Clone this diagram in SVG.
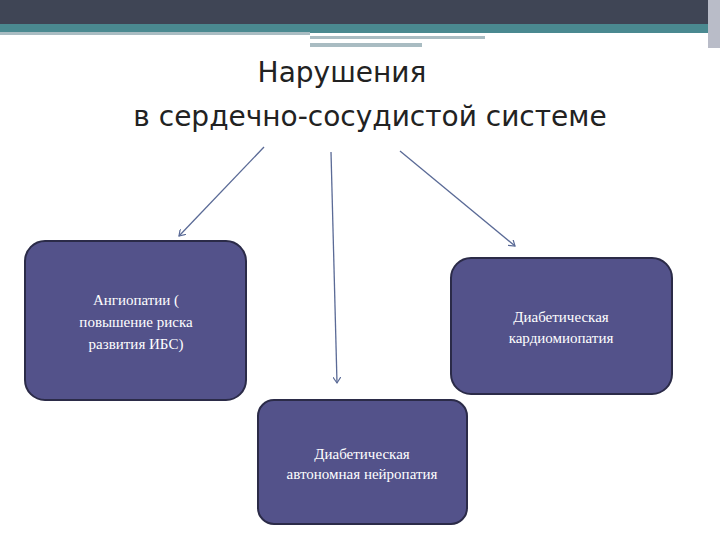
<svg xmlns="http://www.w3.org/2000/svg" width="720" height="540" viewBox="0 0 720 540">
<style>
.box{fill:#53528a;stroke:#2b2b48;stroke-width:2}
.bt{font-family:"Liberation Serif",serif;font-size:15px;fill:#fff;text-anchor:middle}
.ttl{font-family:"DejaVu Sans",sans-serif;font-size:28px;fill:#222}
.con{stroke:#5a6a96;stroke-width:1.3;fill:none;marker-end:url(#ah)}
</style>
<defs><marker id="ah" markerWidth="8" markerHeight="8" refX="6" refY="4" orient="auto" markerUnits="userSpaceOnUse"><path d="M0,0 L6,4 L0,8" fill="none" stroke="#5a6a96" stroke-width="1.2"/></marker></defs>
<rect width="720" height="540" fill="#fff"/>
<rect width="720" height="24" fill="#3f4555"/>
<rect y="24" width="720" height="9" fill="#4a8990"/>
<rect y="32" width="310" height="3" fill="#a9bcc2"/>
<rect x="310" y="36" width="175" height="3" fill="#a9bcc2"/>
<rect x="310" y="43" width="112" height="4" fill="#a9bcc2"/>
<rect x="708" y="0" width="12" height="48" fill="#b9bcc8"/>
<g id="title"><text class="ttl" x="342" y="82" text-anchor="middle">Нарушения</text><text class="ttl" x="370" y="126" text-anchor="middle">в сердечно-сосудистой системе</text></g>
<g id="connectors">
<line class="con" x1="264" y1="147" x2="179" y2="236"/>
<line class="con" x1="331" y1="152" x2="337" y2="383"/>
<line class="con" x1="400" y1="151" x2="515" y2="246"/>
</g>
<g id="n1"><rect class="box" x="25" y="241" width="221" height="159" rx="20"/><text class="bt" x="136" y="305">Ангиопатии (</text><text class="bt" x="136" y="327">повышение риска</text><text class="bt" x="136" y="349">развития ИБС)</text></g>
<g id="n2"><rect class="box" x="451" y="258" width="221" height="136" rx="20"/><text class="bt" x="561" y="322">Диабетическая</text><text class="bt" x="561" y="343">кардиомиопатия</text></g>
<g id="n3"><rect class="box" x="258" y="400" width="209" height="124" rx="16"/><text class="bt" x="362" y="459">Диабетическая</text><text class="bt" x="362" y="479">автономная нейропатия</text></g>
</svg>
